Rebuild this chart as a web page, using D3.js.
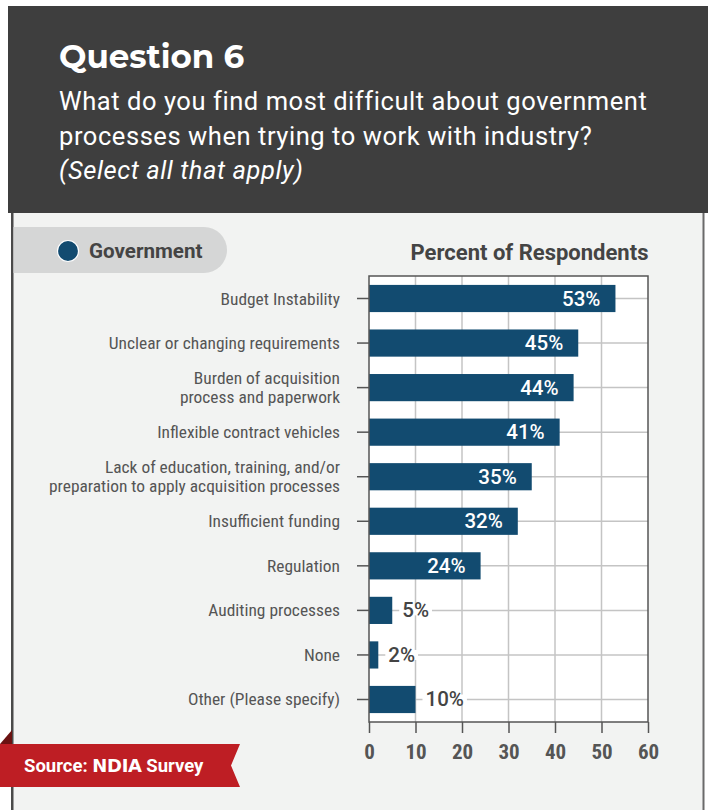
<!DOCTYPE html>
<html>
<head>
<meta charset="utf-8">
<script src="https://cdn.jsdelivr.net/npm/d3@7/dist/d3.min.js"></script>
<style>
  html, body { margin: 0; padding: 0; background: #ffffff; }
  svg { display: block; }
</style>
</head>
<body>
<svg id="chart" width="708" height="810"></svg>
<script>
// Survey responses: share of government respondents citing each difficulty
const categories = [
  ["Budget Instability"],
  ["Unclear or changing requirements"],
  ["Burden of acquisition", "process and paperwork"],
  ["Inflexible contract vehicles"],
  ["Lack of education, training, and/or", "preparation to apply acquisition processes"],
  ["Insufficient funding"],
  ["Regulation"],
  ["Auditing processes"],
  ["None"],
  ["Other (Please specify)"]
];
const values = [53, 45, 44, 41, 35, 32, 24, 5, 2, 10];
const xTicks = [0, 10, 20, 30, 40, 50, 60];

const titleText = "Question 6";
const questionLines = [
  "What do you find most difficult about government",
  "processes when trying to work with industry?"
];
const noteText = "(Select all that apply)";
const legendLabel = "Government";
const axisTitle = "Percent of Respondents";

const condensed = "'Roboto Condensed', 'Liberation Sans Narrow', 'Arial Narrow', 'DejaVu Sans Condensed', sans-serif";
const barColor = "#124b70";

const svg = d3.select("#chart");

// Light panel with dark left/right rule
svg.append("rect").attr("x", 12).attr("y", 200).attr("width", 692).attr("height", 620)
  .attr("fill", "#f2f3f2");
svg.append("rect").attr("x", 11).attr("y", 200).attr("width", 2.5).attr("height", 620).attr("fill", "#4a4a4a");
svg.append("rect").attr("x", 702.5).attr("y", 200).attr("width", 2).attr("height", 620).attr("fill", "#6a6a6a");

// Header block
svg.append("rect").attr("x", 8).attr("y", 6).attr("width", 710).attr("height", 207).attr("fill", "#3e3e3e");
svg.append("text").attr("x", 59).attr("y", 68)
  .attr("fill", "#ffffff").attr("font-family", "Montserrat, 'Open Sans', Roboto, sans-serif")
  .attr("font-weight", 700).attr("font-size", 32.5).text(titleText);
questionLines.forEach((t, i) => {
  svg.append("text").attr("x", 59).attr("y", 110 + i * 34.5)
    .attr("fill", "#ffffff").attr("font-family", "Roboto, sans-serif")
    .attr("font-size", 25.5).attr("letter-spacing", 0.56).text(t);
});
svg.append("text").attr("x", 59).attr("y", 179)
  .attr("fill", "#ffffff").attr("font-family", "Roboto, sans-serif")
  .attr("font-style", "italic").attr("font-size", 25.5).attr("letter-spacing", 0.56).text(noteText);

// Legend pill
svg.append("path")
  .attr("d", "M13.5,227 H204 A23,23 0 0 1 204,273 H13.5 Z")
  .attr("fill", "#d5d6d6");
svg.append("circle").attr("cx", 68).attr("cy", 251).attr("r", 10.5)
  .attr("fill", barColor).attr("stroke", "#ffffff").attr("stroke-width", 1.2);
svg.append("text").attr("x", 89).attr("y", 258)
  .attr("fill", "#444444").attr("font-family", "Roboto, sans-serif")
  .attr("font-weight", 700).attr("font-size", 20.6).text(legendLabel);

// Plot geometry
const plot = { left: 369, right: 648, top: 276, bottom: 722 };
const x = d3.scaleLinear().domain([0, 60]).range([plot.left, plot.right]);
const y = d3.scaleBand().domain(d3.range(categories.length))
  .range([plot.top, plot.bottom]).paddingInner(0.39).paddingOuter(0.2);

svg.append("text").attr("x", 529.5).attr("y", 260).attr("text-anchor", "middle")
  .attr("fill", "#444444").attr("font-family", "Roboto, sans-serif")
  .attr("font-weight", 700).attr("font-size", 22).text(axisTitle);

svg.append("rect").attr("x", plot.left).attr("y", plot.top)
  .attr("width", plot.right - plot.left).attr("height", plot.bottom - plot.top)
  .attr("fill", "#ffffff");

const g = svg.append("g");

// Vertical gridlines
g.selectAll("line.vgrid").data(xTicks.slice(1, -1)).join("line")
  .attr("x1", d => x(d)).attr("x2", d => x(d))
  .attr("y1", plot.top).attr("y2", plot.bottom)
  .attr("stroke", "#c4c4c4").attr("stroke-width", 1.5);

// Horizontal gridlines through category centres
g.selectAll("line.hgrid").data(d3.range(categories.length)).join("line")
  .attr("x1", plot.left).attr("x2", plot.right)
  .attr("y1", i => y(i) + y.bandwidth() / 2).attr("y2", i => y(i) + y.bandwidth() / 2)
  .attr("stroke", "#c4c4c4").attr("stroke-width", 1.5);

// Bars
g.selectAll("rect.bar").data(values).join("rect")
  .attr("x", x(0)).attr("y", (d, i) => y(i))
  .attr("width", d => x(d) - x(0)).attr("height", y.bandwidth())
  .attr("fill", barColor);

// Frame
svg.append("rect").attr("x", plot.left).attr("y", plot.top)
  .attr("width", plot.right - plot.left).attr("height", plot.bottom - plot.top)
  .attr("fill", "none").attr("stroke", "#555555").attr("stroke-width", 1.5);

// Value labels: inside the bar when it is long enough, otherwise after it
const valueFont = "Roboto, sans-serif";
values.forEach((v, i) => {
  const cy = y(i) + y.bandwidth() / 2;
  const inside = v >= 20;
  const label = v + "%";
  if (inside) {
    svg.append("text").attr("x", x(v) - 15).attr("y", cy + 7)
      .attr("text-anchor", "end").attr("fill", "#ffffff")
      .attr("font-family", valueFont).attr("font-weight", 500).attr("font-size", 20.5)
      .text(label);
  } else {
    const t = svg.append("text").attr("x", x(v) + 10).attr("y", cy + 7)
      .attr("fill", "#444444")
      .attr("font-family", valueFont).attr("font-weight", 500).attr("font-size", 20.5)
      .text(label);
    const bb = t.node().getBBox();
    svg.insert("rect", () => t.node())
      .attr("x", bb.x - 3).attr("y", cy - 5).attr("width", bb.width + 6).attr("height", 10)
      .attr("fill", "#ffffff");
  }
});

// Category axis
const yAxis = d3.axisLeft(y).tickSize(12).tickPadding(0).tickFormat("");
const ya = svg.append("g").attr("transform", `translate(${plot.left},0)`).call(yAxis);
ya.select(".domain").remove();
ya.selectAll(".tick line").attr("stroke", "#555555").attr("stroke-width", 1.5);
ya.selectAll(".tick").each(function(i) {
  const lines = categories[i];
  const t = d3.select(this).append("text")
    .attr("x", -29).attr("text-anchor", "end")
    .attr("fill", "#555555").attr("font-family", condensed).attr("font-size", 17.4);
  const lh = 19;
  const y0 = -((lines.length - 1) * lh) / 2 + 6;
  lines.forEach((ln, k) => {
    t.append("tspan").attr("x", -29).attr("y", y0 + k * lh).text(ln);
  });
});

// Value axis
const xAxis = d3.axisBottom(x).tickValues(xTicks).tickSize(11).tickPadding(11).tickFormat(d3.format("d"));
const xa = svg.append("g").attr("transform", `translate(0,${plot.bottom})`).call(xAxis);
xa.select(".domain").remove();
xa.selectAll(".tick line").attr("stroke", "#555555").attr("stroke-width", 1.5);
xa.selectAll(".tick text").attr("fill", "#555555")
  .attr("font-family", condensed).attr("font-weight", 700).attr("font-size", 21);

// Source ribbon
svg.append("path").attr("d", "M0,744 L12,730 L12,744 Z").attr("fill", "#6b1212");
svg.append("path").attr("d", "M0,744 H240 L231,765.5 L240,787 H0 Z").attr("fill", "#be1e24");
const src = svg.append("text").attr("x", 24).attr("y", 772)
  .attr("fill", "#ffffff").attr("font-family", "Roboto, sans-serif")
  .attr("font-weight", 700).attr("font-size", 18.5);
src.append("tspan").text("Source: ");
src.append("tspan").attr("font-family", "'DejaVu Sans', sans-serif").attr("font-weight", 700)
  .attr("font-size", 18).attr("letter-spacing", -0.3).text("NDIA");
src.append("tspan").text(" Survey");
</script>
</body>
</html>
